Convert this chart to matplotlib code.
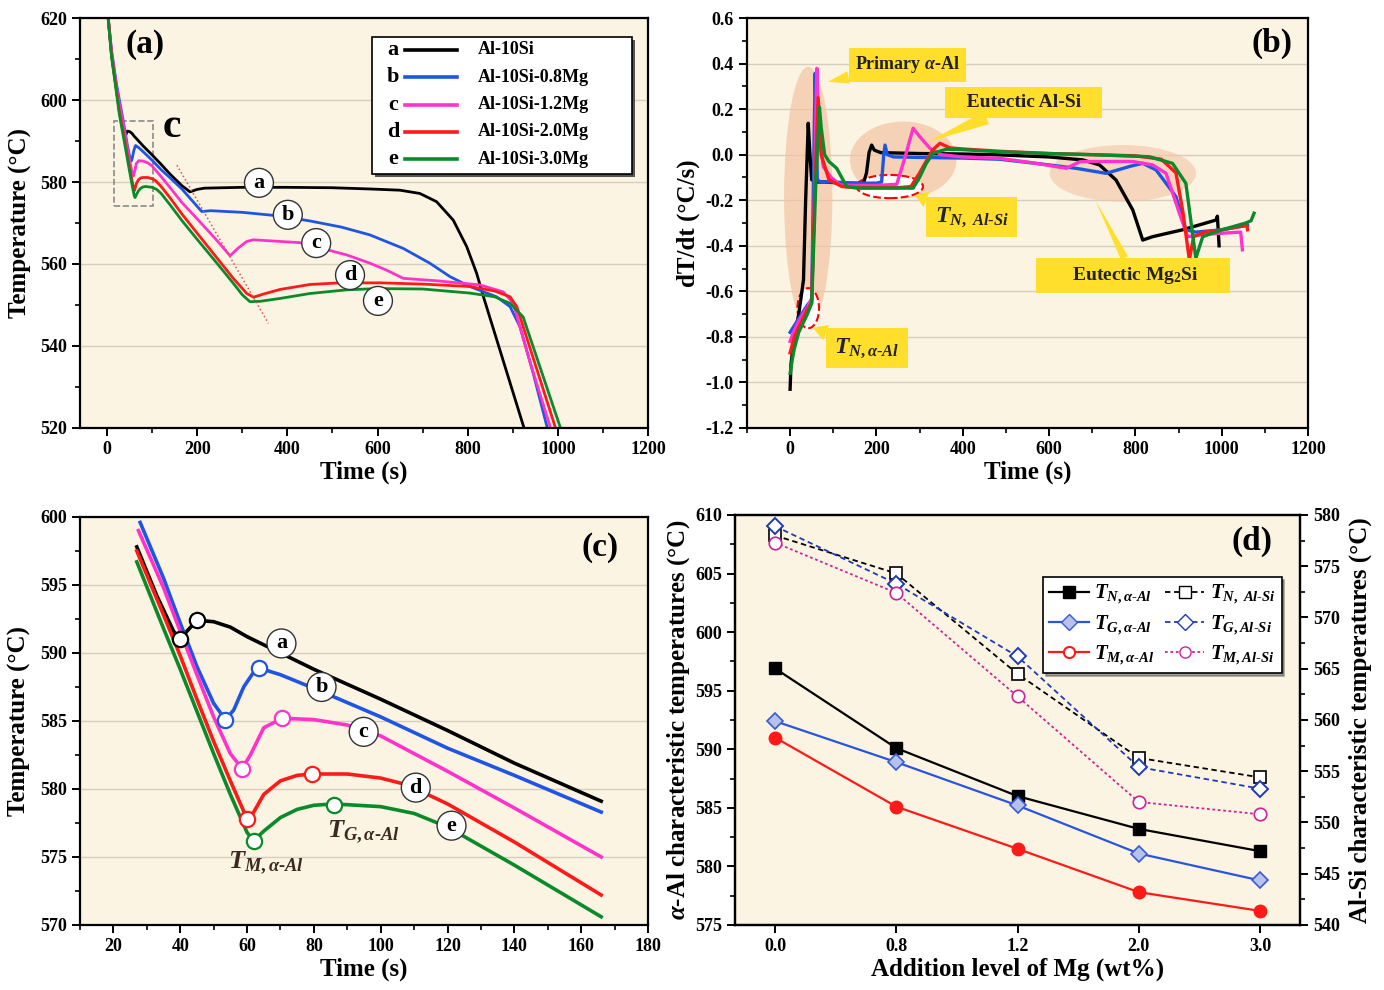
import numpy as np
import matplotlib
matplotlib.use("Agg")
import matplotlib.pyplot as plt
from matplotlib.ticker import MultipleLocator, FormatStrFormatter
from matplotlib.patches import Ellipse, Rectangle
from matplotlib.lines import Line2D

plt.rcParams['font.family'] = ['Liberation Serif', 'DejaVu Serif']
plt.rcParams['font.weight'] = 'bold'
plt.rcParams['axes.labelweight'] = 'bold'
plt.rcParams['mathtext.fontset'] = 'custom'
plt.rcParams['mathtext.rm'] = 'Liberation Serif:bold'
plt.rcParams['mathtext.it'] = 'Liberation Serif:italic:bold'
plt.rcParams['mathtext.bf'] = 'Liberation Serif:bold'
plt.rcParams['axes.unicode_minus'] = False

BG = '#fcf4e3'
GRID = '#d6cdbf'
YEL = '#ffdf2b'
HY = '\u2010'  # plain hyphen inside math text
colors = ['black', '#1f55e0', '#ff33cc', '#ff1a1a', '#0a8a2a']
letters = ['a', 'b', 'c', 'd', 'e']
alloys = ['Al-10Si', 'Al-10Si-0.8Mg', 'Al-10Si-1.2Mg', 'Al-10Si-2.0Mg', 'Al-10Si-3.0Mg']

# ---- cooling curves (time s, temperature C) ----
a_t = [0, 10, 20, 27, 33, 38, 40, 42, 45, 50, 55, 60, 70, 80, 100, 120, 140, 166, 184, 200,
       216, 300, 400, 500, 583, 650, 694, 731, 768, 798, 820, 835, 880, 925]
a_T = [623, 611, 603.3, 597.8, 594.2, 591.6, 591.0, 591.6, 592.4, 592.3, 591.9, 591.2, 590.0, 588.8,
       586.6, 584.3, 581.9, 579.1, 577.6, 578.2, 578.5, 578.7, 578.7, 578.6, 578.3, 578.0, 577.2,
       575.2, 570.7, 564.2, 557.7, 552.0, 536.0, 520.0]
b_t = [0, 10, 20, 28, 35, 40, 45, 50, 53.5, 56, 59, 62, 63.5, 70, 80, 100, 120, 140, 166, 190,
       210, 230, 300, 384, 450, 520, 583, 657, 716, 761, 805, 864, 894, 916, 945, 976]
b_T = [623, 612, 604.5, 599.6, 595.5, 592.2, 589.0, 586.3, 585.1, 585.8, 587.5, 588.6, 588.9, 588.4,
       587.4, 585.3, 583.0, 581.0, 578.3, 575.3, 572.8, 573.0, 572.6, 571.7, 570.5, 569.0, 567.1,
       563.8, 560.2, 556.9, 554.5, 552.0, 549.6, 544.7, 533.5, 520.3]
c_t = [0, 10, 20, 27.5, 35, 40, 45, 50, 55, 58.5, 61, 65, 70.5, 80, 90, 100, 120, 140, 166, 200,
       240, 273, 290, 310, 325, 428, 532, 583, 620, 657, 731, 827, 879, 901, 940, 983]
c_T = [623, 611.8, 604, 599.0, 594.8, 591.6, 588.4, 585.3, 582.6, 581.5, 582.5, 584.5, 585.2, 585.1,
       584.7, 583.9, 581.3, 578.6, 575.0, 571.0, 566.2, 562.0, 563.8, 565.5, 565.9, 565.2, 562.2,
       560.2, 558.5, 556.5, 555.9, 554.9, 553.2, 550.4, 535.5, 520.3]
d_t = [0, 10, 20, 27, 35, 40, 45, 50, 55, 60, 62, 65, 70, 75, 79.5, 90, 100, 108, 120, 140,
       166, 200, 240, 280, 310, 325, 345, 384, 450, 517, 606, 700, 805, 860, 894, 909, 950, 994]
d_T = [623, 611, 603, 597.5, 592.8, 589.8, 586.6, 583.5, 580.6, 577.8, 578.3, 579.6, 580.6, 581.0,
       581.1, 581.1, 580.8, 580.3, 578.9, 576.1, 572.2, 567.5, 562.0, 556.5, 552.8, 551.9, 552.6,
       553.8, 555.0, 555.4, 555.4, 555.1, 554.5, 553.4, 552.0, 549.6, 535.5, 520.3]
e_t = [0, 10, 20, 27, 35, 40, 45, 50, 55, 60, 62, 65, 70, 75, 80, 86, 100, 110, 120, 140,
       166, 200, 240, 280, 300, 317, 340, 384, 450, 532, 600, 700, 805, 860, 894, 923, 960, 1005]
e_T = [623, 610.5, 602.5, 596.7, 591.8, 588.8, 585.7, 582.6, 579.6, 576.8, 576.2, 576.9, 577.9, 578.5,
       578.8, 578.9, 578.7, 578.2, 577.2, 574.4, 570.6, 566.0, 560.7, 555.3, 552.5, 550.8, 550.9,
       551.6, 552.8, 553.7, 554.0, 553.9, 552.9, 552.0, 550.4, 547.1, 535.0, 520.3]
curves_t = [a_t, b_t, c_t, d_t, e_t]
curves_T = [a_T, b_T, c_T, d_T, e_T]

# ---- cooling rate curves dT/dt ----
bk_t = [0, 2, 10, 20, 31, 36, 42, 46, 50, 60, 80, 120, 170, 177, 183, 189, 195, 210, 300, 400,
        485, 600, 678, 717, 755, 794, 817, 840, 909, 987, 990, 994]
bk_v = [-1.03, -0.92, -0.80, -0.70, -0.55, -0.2, 0.138, 0.0, -0.11, -0.12, -0.12, -0.125, -0.126,
        -0.08, 0.01, 0.042, 0.02, 0.009, 0.005, 0.003, -0.001, -0.01, -0.023, -0.045, -0.111,
        -0.243, -0.375, -0.36, -0.33, -0.287, -0.27, -0.40]
bl_t = [0, 10, 20, 30, 40, 50, 55, 58, 61, 63, 70, 100, 150, 200, 212, 217, 220, 225, 240, 300,
        400, 485, 600, 663, 732, 790, 817, 848, 894, 917, 940, 1000, 1060]
bl_v = [-0.78, -0.75, -0.72, -0.69, -0.66, -0.64, 0.0, 0.357, 0.1, -0.11, -0.12, -0.12, -0.125,
        -0.125, -0.12, 0.0, 0.042, 0.0, -0.01, -0.012, -0.015, -0.02, -0.045, -0.06, -0.082,
        -0.05, -0.038, -0.067, -0.184, -0.33, -0.34, -0.33, -0.31]
pk_t = [0, 10, 20, 30, 40, 50, 56, 62, 66, 77, 95, 116, 150, 200, 247, 265, 285, 300, 324, 350,
        400, 485, 560, 640, 671, 700, 794, 840, 871, 902, 921, 960, 1000, 1044, 1048]
pk_v = [-0.82, -0.77, -0.73, -0.70, -0.67, -0.63, -0.2, 0.379, 0.1, -0.053, -0.10, -0.133, -0.135,
        -0.135, -0.13, -0.02, 0.116, 0.08, 0.028, 0.0, -0.01, -0.016, -0.035, -0.06, -0.031,
        -0.03, -0.03, -0.045, -0.082, -0.257, -0.36, -0.35, -0.345, -0.34, -0.418]
rd_t = [0, 10, 20, 30, 40, 50, 58, 65, 72, 90, 120, 150, 200, 250, 280, 300, 330, 347, 370, 400,
        485, 600, 700, 800, 860, 894, 910, 925, 935, 960, 1000, 1058, 1060]
rd_v = [-0.87, -0.80, -0.76, -0.72, -0.68, -0.65, -0.1, 0.25, 0.0, -0.11, -0.14, -0.145, -0.145,
        -0.145, -0.14, -0.08, 0.02, 0.05, 0.03, 0.025, 0.015, 0.005, 0.0, -0.005, -0.02, -0.08,
        -0.25, -0.462, -0.36, -0.34, -0.33, -0.31, -0.33]
gr_t = [0, 5, 10, 20, 30, 40, 50, 60, 68, 72, 80, 90, 108, 131, 160, 200, 250, 285, 300, 315,
        331, 362, 400, 485, 600, 700, 832, 886, 917, 940, 956, 1000, 1056, 1068, 1075]
gr_v = [-0.96, -0.90, -0.85, -0.78, -0.74, -0.70, -0.652, -0.1, 0.208, 0.12, 0.0, -0.03, -0.06,
        -0.14, -0.147, -0.147, -0.147, -0.147, -0.10, -0.04, 0.006, 0.024, 0.022, 0.013, 0.005,
        0.0, -0.009, -0.038, -0.126, -0.455, -0.36, -0.33, -0.30, -0.29, -0.257]
rate_t = [bk_t, bl_t, pk_t, rd_t, gr_t]
rate_v = [bk_v, bl_v, pk_v, rd_v, gr_v]

# ---- characteristic temperatures ----
mg_levels = ['0.0', '0.8', '1.2', '2.0', '3.0']
TN_alal = [596.9, 590.1, 586.0, 583.2, 581.3]
TG_alal = [592.4, 588.9, 585.2, 581.1, 578.8]
TM_alal = [591.0, 585.1, 581.5, 577.8, 576.2]
TN_alsi = [578.0, 574.3, 564.5, 556.3, 554.4]
TG_alsi = [578.9, 573.3, 566.2, 555.4, 553.3]
TM_alsi = [577.3, 572.4, 562.3, 552.0, 550.8]
TM_time = [40, 53.5, 58.5, 60, 62]
TG_time = [45, 63.5, 70.5, 79.5, 86]

fig = plt.figure(figsize=(13.84, 9.9), dpi=100)
ax_a = fig.add_axes([0.0578, 0.5677, 0.4104, 0.4141])
ax_b = fig.add_axes([0.5397, 0.5677, 0.4054, 0.4141])
ax_c = fig.add_axes([0.0578, 0.0657, 0.4104, 0.4121])
ax_d = fig.add_axes([0.5311, 0.0657, 0.4082, 0.4141])


def style(ax, grid=True):
    ax.set_facecolor(BG)
    for s in ax.spines.values():
        s.set_linewidth(1.6)
    ax.tick_params(which='major', direction='out', length=6, width=1.4, labelsize=13,
                   top=False, right=False)
    ax.tick_params(which='minor', direction='out', length=3.5, width=1.2, top=False, right=False)
    if grid:
        ax.yaxis.grid(True, color=GRID, lw=1)
    ax.set_axisbelow(True)


def circ_label(ax, x, y, s, fs=16):
    ax.text(x, y, s, ha='center', va='center', fontsize=fs, zorder=8,
            bbox=dict(boxstyle='circle,pad=0.2', fc='white', ec='#333333', lw=1))


def tlab(main, sub):
    # italic T with subscript, hyphen kept as a short hyphen
    return r'$T_{%s}$' % sub.replace('-', HY) if main == 'T' else main


# ================= (a) =================
style(ax_a)
for tt, TT, col in zip(curves_t, curves_T, colors):
    ax_a.plot(tt, TT, color=col, lw=2)
ax_a.set_xlim(-60, 1200)
ax_a.set_ylim(520, 620)
ax_a.xaxis.set_major_locator(MultipleLocator(200))
ax_a.xaxis.set_minor_locator(MultipleLocator(100))
ax_a.yaxis.set_major_locator(MultipleLocator(20))
ax_a.yaxis.set_minor_locator(MultipleLocator(10))
ax_a.set_xlabel('Time (s)', fontsize=18, labelpad=2)
ax_a.set_ylabel('Temperature (°C)', fontsize=18, labelpad=6)
ax_a.text(0.114, 0.935, '(a)', transform=ax_a.transAxes, fontsize=24, ha='center', va='center')
ax_a.add_patch(Rectangle((16, 574.2), 85, 20.7, fill=False, ec='#8a8a8a', ls='--', lw=1.2))
ax_a.text(144, 593.5, 'c', fontsize=30, ha='center', va='center')
ax_a.plot([155, 358], [584.1, 545.5], color='#e05050', ls=':', lw=1.1)
for x, y, s in zip([337, 401, 464, 539, 601], [579.8, 572.0, 565.1, 557.3, 551.0], letters):
    circ_label(ax_a, x, y, s)

# hand-made legend
ax_a.add_patch(Rectangle((0.519, 0.612), 0.458, 0.334, transform=ax_a.transAxes,
                         fc='#555555', ec='none', zorder=6))
ax_a.add_patch(Rectangle((0.514, 0.620), 0.458, 0.334, transform=ax_a.transAxes,
                         fc='white', ec='black', lw=1.2, zorder=7))
for i, (lt, lab, col) in enumerate(zip(letters, alloys, colors)):
    y = 0.922 - i * 0.0665
    ax_a.text(0.551, y, lt, transform=ax_a.transAxes, fontsize=16, ha='center', va='center', zorder=8)
    ax_a.plot([0.572, 0.664], [y, y], transform=ax_a.transAxes, color=col, lw=2.6, zorder=8)
    ax_a.text(0.701, y, lab, transform=ax_a.transAxes, fontsize=13, ha='left', va='center', zorder=8)

# ================= (b) =================
style(ax_b)
ax_b.add_patch(Ellipse((42, -0.184), 112, 1.14, fc='#f3c3a3', ec='none', alpha=0.7, zorder=1))
ax_b.add_patch(Ellipse((262, -0.023), 247, 0.337, fc='#f3c3a3', ec='none', alpha=0.7, zorder=1))
ax_b.add_patch(Ellipse((771, -0.082), 339, 0.249, fc='#f3c3a3', ec='none', alpha=0.6, zorder=1))
ax_b.add_patch(Ellipse((231, -0.14), 154, 0.102, fc='white', ec='red', ls='--', lw=1.5, zorder=1.5))
ax_b.add_patch(Ellipse((42, -0.674), 50, 0.176, fc='white', ec='red', ls='--', lw=1.5, zorder=1.5))
for tt, vv, col in zip(rate_t, rate_v, colors):
    ax_b.plot(tt, vv, color=col, lw=2.4, zorder=2)
ax_b.set_xlim(-100, 1200)
ax_b.set_ylim(-1.2, 0.6)
ax_b.xaxis.set_major_locator(MultipleLocator(200))
ax_b.xaxis.set_minor_locator(MultipleLocator(100))
ax_b.yaxis.set_major_locator(MultipleLocator(0.2))
ax_b.yaxis.set_minor_locator(MultipleLocator(0.1))
ax_b.yaxis.set_major_formatter(FormatStrFormatter('%.1f'))
ax_b.set_xlabel('Time (s)', fontsize=18, labelpad=2)
ax_b.set_ylabel('dT/dt (°C/s)', fontsize=18, labelpad=4)
ax_b.text(0.936, 0.937, '(b)', transform=ax_b.transAxes, fontsize=24, ha='center', va='center')

box = dict(boxstyle='square,pad=0.35', fc=YEL, ec='none')
wedge = dict(arrowstyle='wedge,tail_width=0.7', fc=YEL, ec='none', shrinkA=0, shrinkB=0)
ax_b.annotate(r'Primary $\alpha$-Al', xy=(88, 0.32), xytext=(272, 0.394), fontsize=13,
              ha='center', va='center', color='#222222', bbox=box, arrowprops=wedge, zorder=6)
ax_b.annotate('   Eutectic Al-Si   ', xy=(319, 0.056), xytext=(541, 0.229), fontsize=14,
              ha='center', va='center', color='#222222', bbox=dict(box, pad=0.5),
              arrowprops=wedge, zorder=6)
ax_b.annotate(tlab('T', r'N,\ Al-Si'), xy=(289, -0.177), xytext=(421, -0.274), fontsize=17,
              ha='center', va='center', color='#222222', bbox=box, arrowprops=wedge, zorder=6)
ax_b.annotate(r'      Eutectic Mg$_2$Si      ', xy=(707, -0.199), xytext=(795, -0.530),
              fontsize=14, ha='center', va='center', color='#222222', bbox=box,
              arrowprops=dict(wedge, arrowstyle='wedge,tail_width=0.4'), zorder=6)
ax_b.annotate(tlab('T', r'N,\alpha-Al'), xy=(53, -0.76), xytext=(178, -0.849), fontsize=17,
              ha='center', va='center', color='#222222', bbox=box, arrowprops=wedge, zorder=6)

# ================= (c) =================
style(ax_c)
for tt, TT, col in zip(curves_t, curves_T, colors):
    tt = np.array(tt)
    TT = np.array(TT)
    m = (tt >= 27) & (tt <= 167)
    ax_c.plot(tt[m], TT[m], color=col, lw=2.6)
for i, col in enumerate(colors):
    ax_c.plot([TM_time[i], TG_time[i]], [TM_alal[i], TG_alal[i]], 'o', ls='none', ms=11,
              mfc='white', mec=col, mew=1.6, zorder=5)
ax_c.set_xlim(10, 180)
ax_c.set_ylim(570, 600)
ax_c.xaxis.set_major_locator(MultipleLocator(20))
ax_c.xaxis.set_minor_locator(MultipleLocator(10))
ax_c.yaxis.set_major_locator(MultipleLocator(5))
ax_c.yaxis.set_minor_locator(MultipleLocator(2.5))
ax_c.set_xlabel('Time (s)', fontsize=18, labelpad=2)
ax_c.set_ylabel('Temperature (°C)', fontsize=18, labelpad=6)
ax_c.text(0.915, 0.924, '(c)', transform=ax_c.transAxes, fontsize=24, ha='center', va='center')
for x, y, s in zip([70.3, 82.3, 94.9, 110.5, 121.2], [590.7, 587.5, 584.2, 580.1, 577.3], letters):
    circ_label(ax_c, x, y, s)
ax_c.text(65.5, 574.5, tlab('T', r'M,\alpha-Al'), fontsize=19, color='#3a2a22',
          ha='center', va='center')
ax_c.text(94.7, 576.8, tlab('T', r'G,\alpha-Al'), fontsize=19, color='#3a2a22',
          ha='center', va='center')

# ================= (d) =================
style(ax_d, grid=False)
xpos = np.arange(len(mg_levels))
ax_d.plot(xpos, TN_alal, color='black', lw=1.6, marker='s', ms=8, zorder=4)
ax_d.plot(xpos, TG_alal, color='#2a55d8', lw=1.6, marker='D', ms=8, mfc='#b4c2ec',
          mec='#3a5ad0', mew=1.2, zorder=4)
ax_d.plot(xpos, TM_alal, color='#ff1a1a', lw=1.6, marker='o', ms=9, zorder=4)
ax_d.set_xlim(-0.33, 4.33)
ax_d.set_ylim(575, 610)
ax_d.set_xticks(xpos)
ax_d.set_xticklabels(mg_levels)
ax_d.yaxis.set_major_locator(MultipleLocator(5))
ax_d.yaxis.set_minor_locator(MultipleLocator(2.5))
ax_d.set_xlabel('Addition level of Mg (wt%)', fontsize=18, labelpad=2)
ax_d.set_ylabel(r'$\alpha$-Al characteristic temperatures (°C)', fontsize=18, labelpad=2)

ax_d2 = ax_d.twinx()
ax_d2.plot(xpos, TN_alsi, color='black', lw=1.3, ls=(0, (3, 2)), marker='s', ms=8,
           mfc='white', mec='black', mew=1.2)
ax_d2.plot(xpos, TG_alsi, color='#1e3ab8', lw=1.3, ls=(0, (3, 2)), marker='D', ms=8,
           mfc='white', mec='#1e3ab8', mew=1.4)
ax_d2.plot(xpos, TM_alsi, color='#cc2299', lw=1.3, ls=(0, (1.5, 1.5)), marker='o', ms=9,
           mfc='white', mec='#cc2299', mew=1.2)
ax_d2.set_ylim(540, 580)
ax_d2.yaxis.set_major_locator(MultipleLocator(5))
ax_d2.yaxis.set_minor_locator(MultipleLocator(2.5))
ax_d2.tick_params(which='major', direction='out', length=6, width=1.4, labelsize=13)
ax_d2.tick_params(which='minor', direction='out', length=3.5, width=1.2)
ax_d2.set_ylabel('Al-Si characteristic temperatures (°C)', fontsize=18, labelpad=6)
for s in ax_d2.spines.values():
    s.set_linewidth(1.6)
ax_d2.text(0.915, 0.935, '(d)', transform=ax_d2.transAxes, fontsize=24, ha='center', va='center')

handles = [
    Line2D([], [], color='black', lw=1.6, marker='s', ms=8),
    Line2D([], [], color='#2a55d8', lw=1.6, marker='D', ms=8, mfc='#b4c2ec', mec='#3a5ad0'),
    Line2D([], [], color='#ff1a1a', lw=1.6, marker='o', ms=8, mfc='white', mec='#ff1a1a', mew=1.5),
    Line2D([], [], color='black', lw=1.3, ls=(0, (3, 2)), marker='s', ms=8, mfc='white', mec='black'),
    Line2D([], [], color='#1e3ab8', lw=1.3, ls=(0, (3, 2)), marker='D', ms=8, mfc='white', mec='#1e3ab8'),
    Line2D([], [], color='#cc2299', lw=1.3, ls=(0, (1.5, 1.5)), marker='o', ms=8, mfc='white', mec='#cc2299'),
]
labels = [tlab('T', r'N,\alpha-Al'), tlab('T', r'G,\alpha-Al'), tlab('T', r'M,\alpha-Al'),
          tlab('T', r'N,\ Al-Si'), tlab('T', r'G,Al-Si'), tlab('T', r'M,Al-Si')]
leg = ax_d2.legend(handles, labels, ncol=2, loc='upper left', bbox_to_anchor=(0.545, 0.849),
                   fontsize=15, frameon=True, fancybox=False, shadow=True, framealpha=1,
                   edgecolor='black', handlelength=1.9, handletextpad=0.25, columnspacing=0.5,
                   labelspacing=0.35, borderpad=0.3, borderaxespad=0)
leg.get_frame().set_linewidth(1.2)

fig.savefig('out.png', dpi=100, facecolor='white')
